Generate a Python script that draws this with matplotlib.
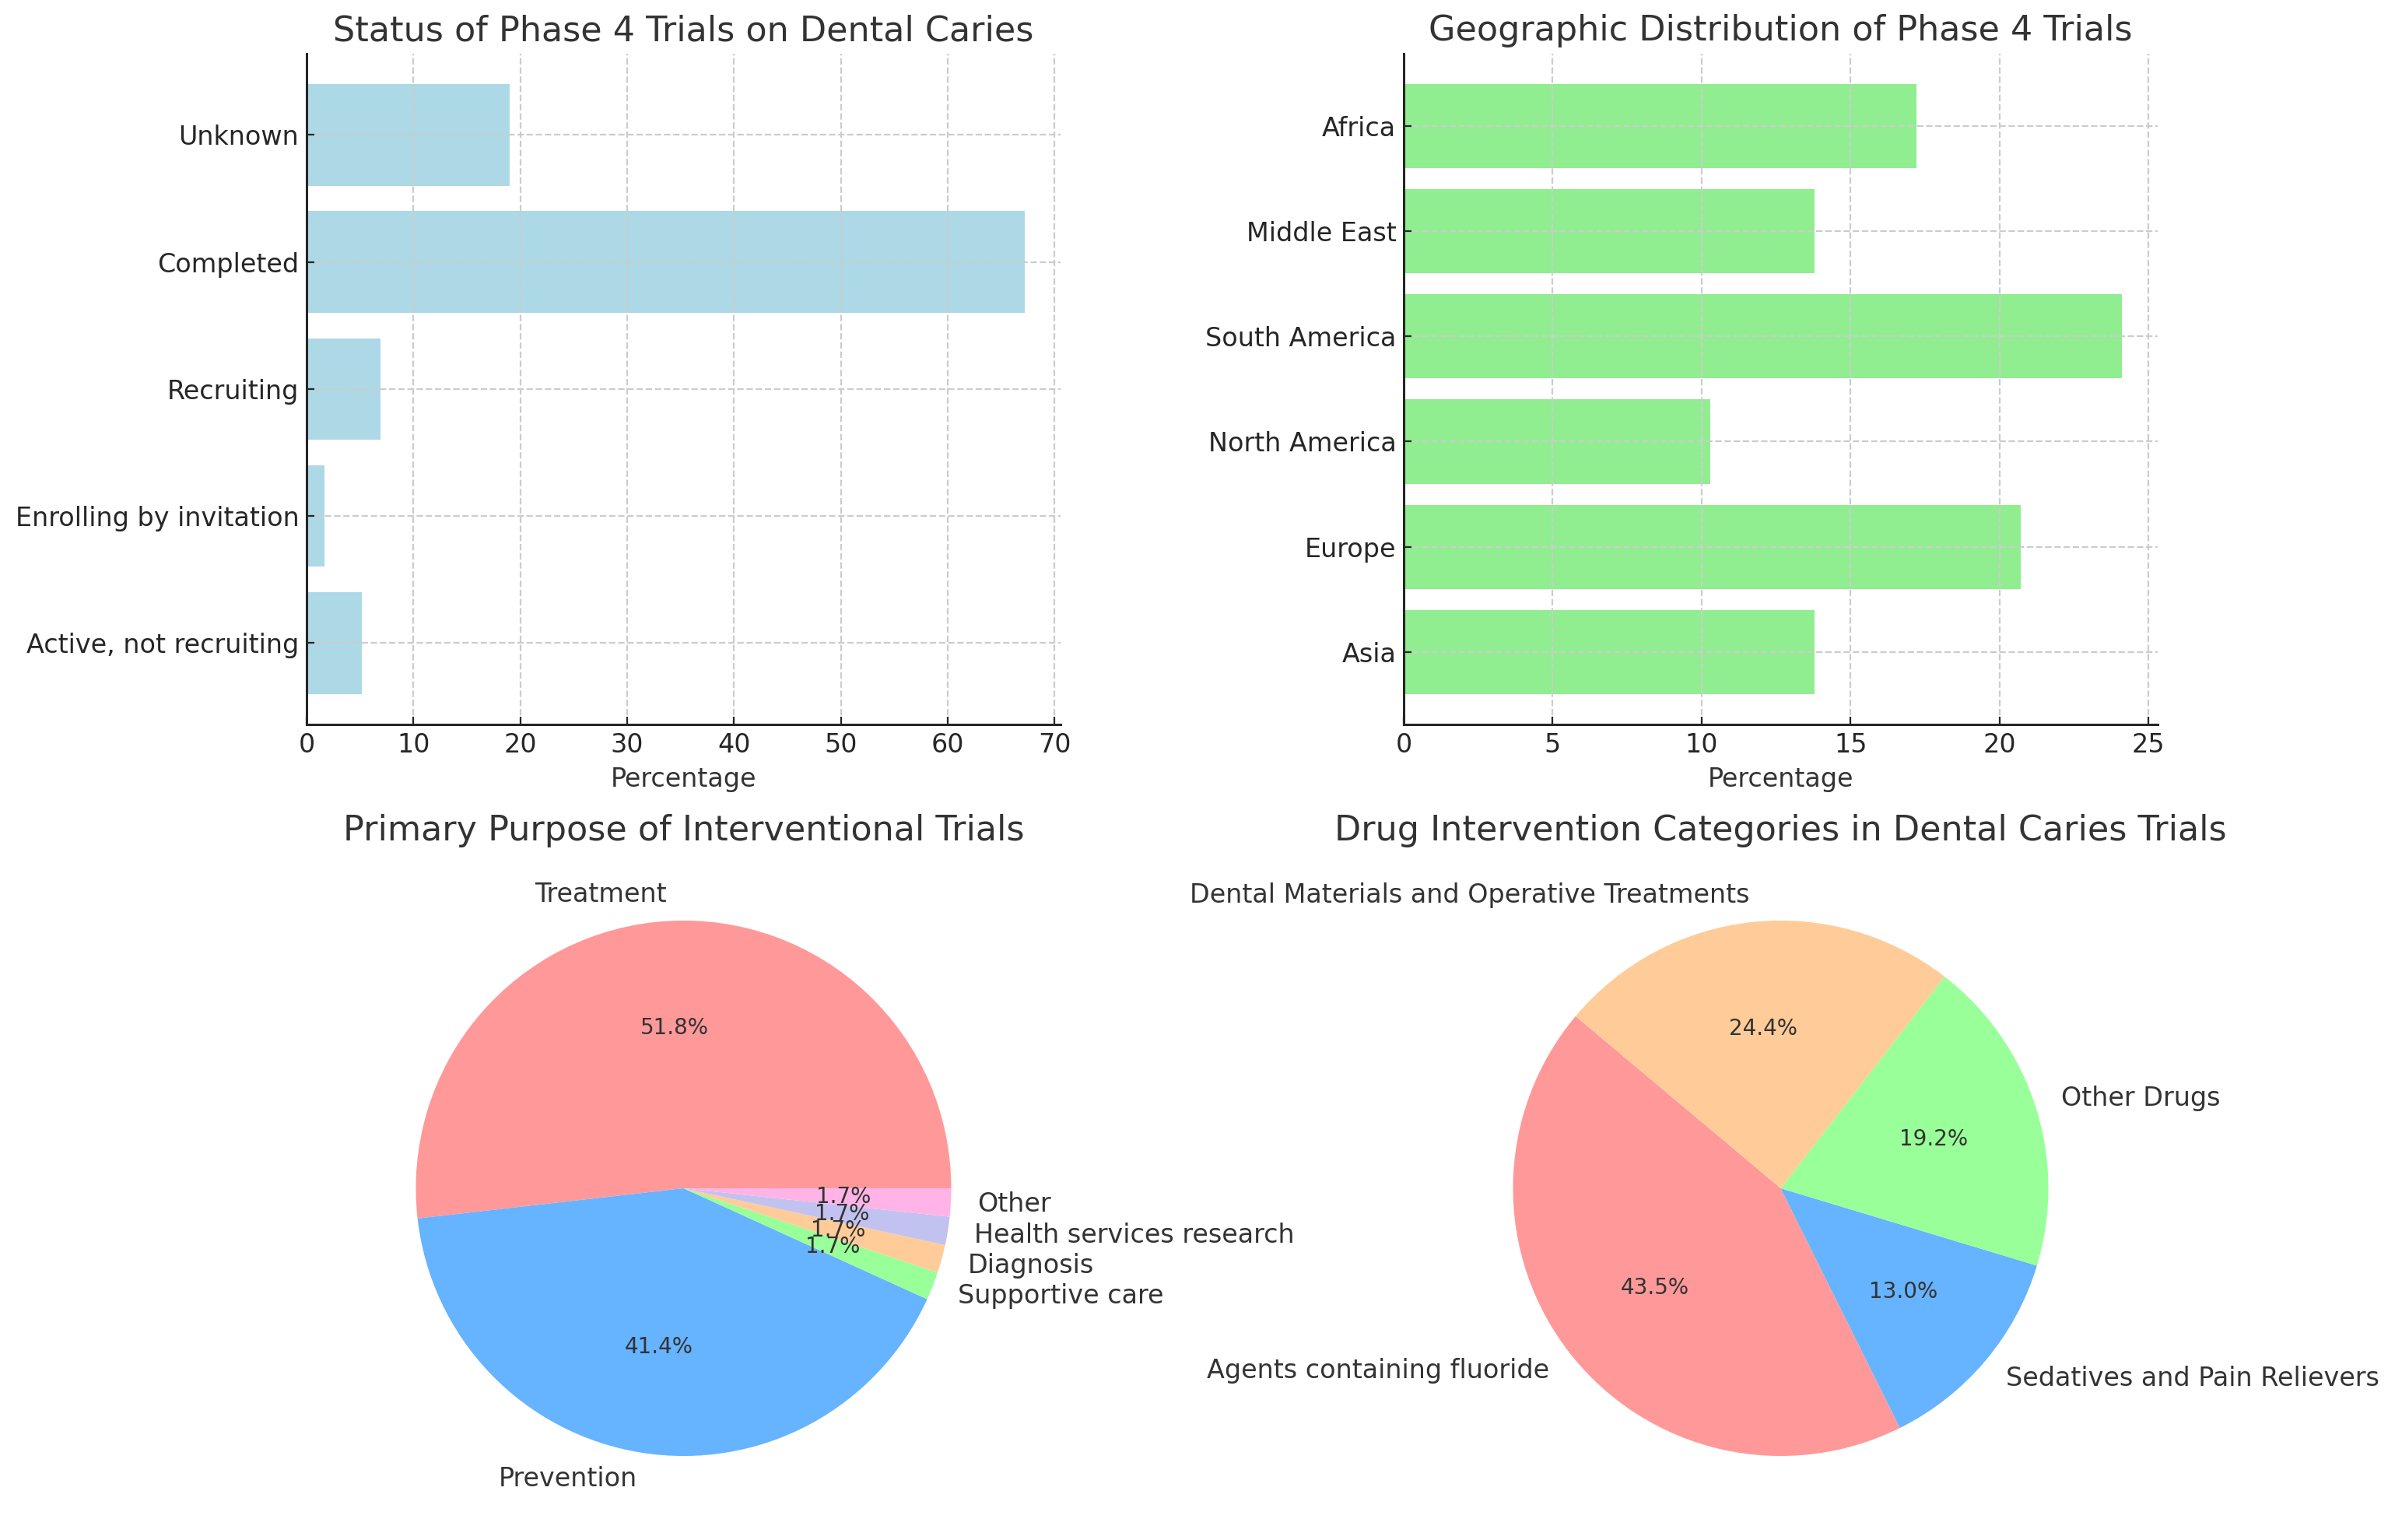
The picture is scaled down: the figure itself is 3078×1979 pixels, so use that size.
import matplotlib
matplotlib.use('Agg')
import matplotlib.pyplot as plt

plt.rcParams['font.family'] = ['DejaVu Sans']
plt.rcParams['font.size'] = 12
plt.rcParams['text.color'] = '#333333'
plt.rcParams['axes.labelcolor'] = '#333333'
plt.rcParams['xtick.color'] = '#262626'
plt.rcParams['ytick.color'] = '#262626'
plt.rcParams['xtick.labelcolor'] = '#262626'
plt.rcParams['ytick.labelcolor'] = '#262626'
plt.rcParams['xtick.direction'] = 'in'
plt.rcParams['ytick.direction'] = 'in'
plt.rcParams['axes.edgecolor'] = '#262626'
plt.rcParams['axes.linewidth'] = 1.1

# status of trials (%)
status_labels = ['Active, not recruiting', 'Enrolling by invitation', 'Recruiting', 'Completed', 'Unknown']
status_pct = [5.2, 1.7, 6.9, 67.2, 19.0]

# geographic distribution (%)
region_labels = ['Asia', 'Europe', 'North America', 'South America', 'Middle East', 'Africa']
region_pct = [13.8, 20.7, 10.3, 24.1, 13.8, 17.2]

# primary purpose (%)
purpose_labels = ['Treatment', 'Prevention', 'Supportive care', 'Diagnosis',
                  'Health services research', 'Other']
purpose_pct = [51.8, 41.4, 1.7, 1.7, 1.7, 1.7]

# drug categories (%)
drug_labels = ['Agents containing fluoride', 'Sedatives and Pain Relievers',
               'Other Drugs', 'Dental Materials and Operative Treatments']
drug_pct = [43.5, 13.0, 19.2, 24.4]

pie_colors = ['#ff9999', '#66b3ff', '#99ff99', '#ffcc99', '#c2c2f0', '#ffb3e6']

fig = plt.figure(figsize=(15.39, 9.895), dpi=200)

ax1 = fig.add_axes([0.128, 0.5296, 0.3148, 0.4356])
ax2 = fig.add_axes([0.5861, 0.5296, 0.3148, 0.4356])
ax3 = fig.add_axes([0.128, 0.0111, 0.3148, 0.4346])
ax4 = fig.add_axes([0.5861, 0.0111, 0.3148, 0.4346])


def style_bar_axes(ax):
    ax.spines['top'].set_visible(False)
    ax.spines['right'].set_visible(False)
    # grid sits over the bars but under the spines
    ax.grid(True, linestyle='--', color='#cccccc', linewidth=0.8)
    ax.set_axisbelow(False)
    for s in ('left', 'bottom'):
        ax.spines[s].set_zorder(3)


ax1.barh(status_labels, status_pct, color='lightblue')
ax1.set_title('Status of Phase 4 Trials on Dental Caries', fontsize=16)
ax1.set_xlabel('Percentage')
style_bar_axes(ax1)

ax2.barh(region_labels, region_pct, color='lightgreen')
ax2.set_title('Geographic Distribution of Phase 4 Trials', fontsize=16)
ax2.set_xlabel('Percentage')
style_bar_axes(ax2)

ax3.pie(purpose_pct, labels=purpose_labels, colors=pie_colors, autopct='%1.1f%%',
        startangle=0, textprops={'fontsize': 12})
for t in ax3.texts:
    if t.get_text().endswith('%'):
        t.set_fontsize(10)
ax3.set_title('Primary Purpose of Interventional Trials', fontsize=16)

ax4.pie(drug_pct, labels=drug_labels, colors=pie_colors[:4], autopct='%1.1f%%',
        startangle=140, textprops={'fontsize': 12})
for t in ax4.texts:
    if t.get_text().endswith('%'):
        t.set_fontsize(10)
ax4.set_title('Drug Intervention Categories in Dental Caries Trials', fontsize=16)

fig.savefig('out.png', dpi=200)
